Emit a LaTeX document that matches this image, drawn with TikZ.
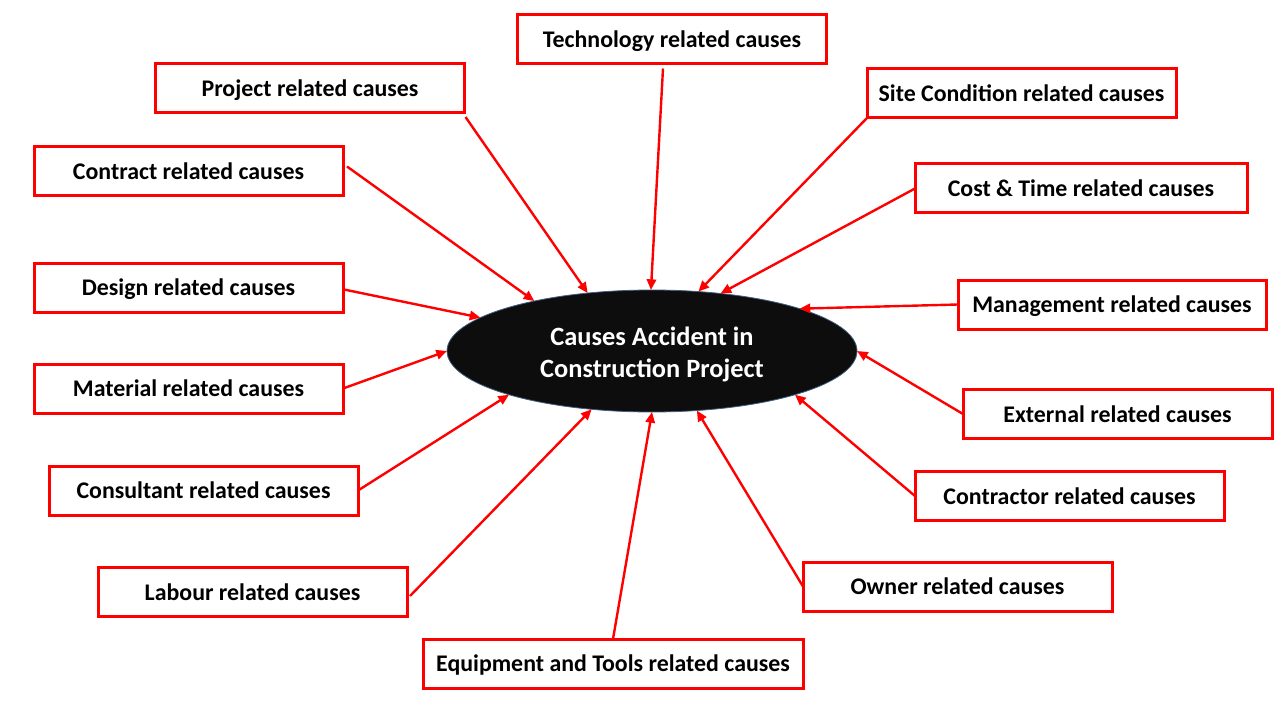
\documentclass[tikz,border=0pt]{standalone}
\usepackage{fontspec}
\setmainfont{Carlito}
\usetikzlibrary{shapes.geometric,arrows.meta}
\definecolor{ellfill}{RGB}{13,13,13}
\definecolor{ellline}{RGB}{65,95,130}
\tikzset{
  cbox/.style={draw=red, line width=2.25pt, fill=white, minimum width=231.75pt, minimum height=36.75pt, inner sep=0pt, outer sep=0pt, text height=16pt, text depth=3.6pt, font=\fontsize{17.9}{21}\selectfont\bfseries},
  arr/.style={draw=red, line width=1.8pt, -{Triangle[length=8pt,width=7pt]}},
  centre/.style={ellipse, draw=ellline, line width=0.6pt, fill=ellfill, minimum width=307.5pt, minimum height=91.5pt, inner sep=0pt, outer sep=0pt, text=white, align=center, font=\fontsize{19.8}{23.5}\selectfont\bfseries}
}
\begin{document}
\begin{tikzpicture}[x=0.75pt,y=-0.75pt]
\useasboundingbox (0,0) rectangle (1280,720);
\fill[white] (0,0) rectangle (1280,720);
\node[centre] (ell) at (652,351) {\rule{0pt}{19pt}Causes Accident in\\Construction Project};
\node[cbox] (tech) at (672,39) {Technology related causes};
\node[cbox] (proj) at (310,88.5) {Project related causes};
\node[cbox] (site) at (1021.5,93.5) {Site Condition related causes};
\node[cbox] (contract) at (188.5,171.5) {Contract related causes};
\node[cbox, minimum width=249pt] (cost) at (1081,188.5) {Cost \& Time related causes};
\node[cbox] (design) at (188.5,287.5) {Design related causes};
\node[cbox, minimum width=231pt] (mgmt) at (1112,304.5) {Management related causes};
\node[cbox] (material) at (188.5,388.5) {Material related causes};
\node[cbox] (external) at (1117.5,414) {External related causes};
\node[cbox] (consult) at (203.5,490.5) {Consultant related causes};
\node[cbox] (contractor) at (1069.5,496) {Contractor related causes};
\node[cbox] (labour) at (252.5,592) {Labour related causes};
\node[cbox] (owner) at (957.5,586.5) {Owner related causes};
\node[cbox, minimum width=285pt] (equip) at (613,663.5) {Equipment and Tools related causes};
\draw[arr] ([shift={(-9,5)}]tech.south) -- (ell.91);
\draw[arr] ([shift={(1,4)}]proj.south east) -- (ell.138.5);
\draw[arr] (site.south west) -- (ell.52.8);
\draw[arr] ([shift={(4,-5)}]contract.east) -- (ell.157.9);
\draw[arr] (cost.west) -- (ell.40.9);
\draw[arr] ([shift={(1,2)}]design.east) -- (ell.169.3);
\draw[arr] (mgmt.west) -- (ell.16.3);
\draw[arr] (material.east) -- (ell.180.3);
\draw[arr] (external.west) -- (ell.-0.5);
\draw[arr] (consult.east) -- (ell.197.6);
\draw[arr] (contractor.west) -- (ell.-17.6);
\draw[arr] ([shift={(3,4)}]labour.east) -- (ell.224.5);
\draw[arr] (owner.west) -- (ell.-53.9);
\draw[arr] (equip.north) -- (ell.-90);
\end{tikzpicture}
\end{document}
